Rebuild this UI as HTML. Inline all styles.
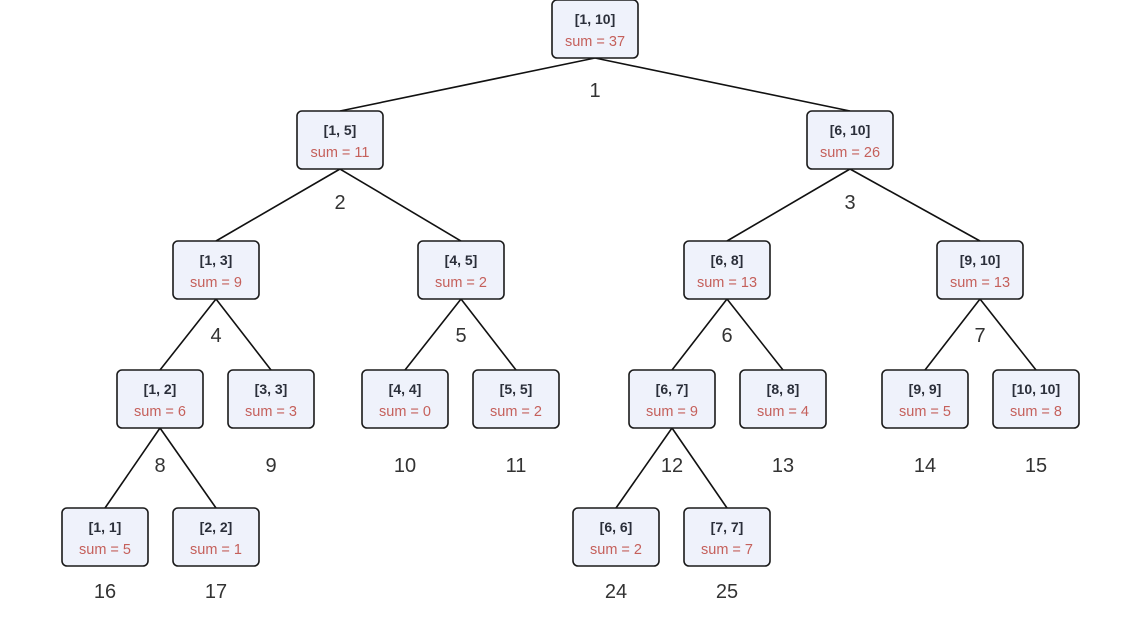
<!DOCTYPE html>
<html><head><meta charset="utf-8"><style>
html,body{margin:0;padding:0;background:#fff;}
svg{display:block;font-family:"Liberation Sans",sans-serif;}
.r{font-size:14px;font-weight:bold;fill:#2b2f3a;}
.s{font-size:14.5px;fill:#c5605b;}
.i{font-size:20px;fill:#333;}
rect{fill:#eff2fb;stroke:#1a1a1a;stroke-width:1.6;}
line{stroke:#111;stroke-width:1.6;}
</style></head><body>
<svg width="1137" height="625" viewBox="0 0 1137 625" id="g"></svg>
<script>
var N=[
["[1, 10]","sum = 37",595,0,"1",90],
["[1, 5]","sum = 11",340,111,"2",202],
["[6, 10]","sum = 26",850,111,"3",202],
["[1, 3]","sum = 9",216,241,"4",335],
["[4, 5]","sum = 2",461,241,"5",335],
["[6, 8]","sum = 13",727,241,"6",335],
["[9, 10]","sum = 13",980,241,"7",335],
["[1, 2]","sum = 6",160,370,"8",465],
["[3, 3]","sum = 3",271,370,"9",465],
["[4, 4]","sum = 0",405,370,"10",465],
["[5, 5]","sum = 2",516,370,"11",465],
["[6, 7]","sum = 9",672,370,"12",465],
["[8, 8]","sum = 4",783,370,"13",465],
["[9, 9]","sum = 5",925,370,"14",465],
["[10, 10]","sum = 8",1036,370,"15",465],
["[1, 1]","sum = 5",105,508,"16",591],
["[2, 2]","sum = 1",216,508,"17",591],
["[6, 6]","sum = 2",616,508,"24",591],
["[7, 7]","sum = 7",727,508,"25",591]];
var E=[[0,1],[0,2],[1,3],[1,4],[2,5],[2,6],[3,7],[3,8],[4,9],[4,10],[5,11],[5,12],[6,13],[6,14],[7,15],[7,16],[11,17],[11,18]];
var s="";
E.forEach(function(e){var a=N[e[0]],b=N[e[1]];s+='<line x1="'+a[2]+'" y1="'+(a[3]+58)+'" x2="'+b[2]+'" y2="'+b[3]+'"/>';});
N.forEach(function(n){var x=n[2],y=n[3];
s+='<rect x="'+(x-43)+'" y="'+y+'" width="86" height="58" rx="5"/>';
s+='<text class="r" x="'+x+'" y="'+(y+24)+'" text-anchor="middle">'+n[0]+'</text>';
s+='<text class="s" x="'+x+'" y="'+(y+46)+'" text-anchor="middle">'+n[1]+'</text>';
s+='<text class="i" x="'+x+'" y="'+(n[5]+7)+'" text-anchor="middle">'+n[4]+'</text>';});
document.getElementById("g").innerHTML=s;
</script>
</body></html>
